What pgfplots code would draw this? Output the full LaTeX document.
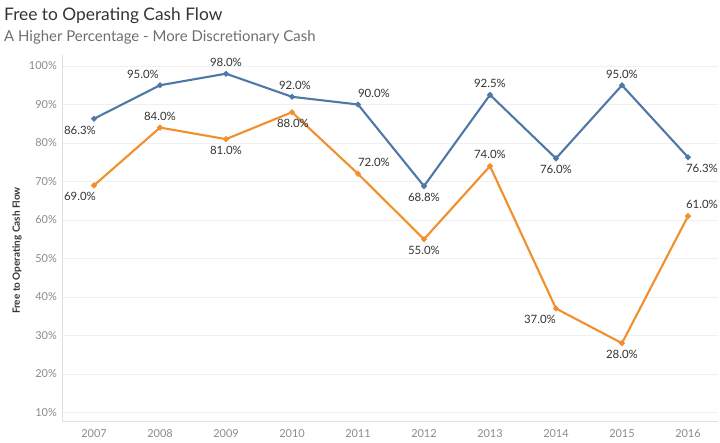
\documentclass[border=0pt]{standalone}
\usepackage{fontspec}
\setmainfont{Lato}
\usepackage{pgfplots}
\pgfplotsset{compat=1.18}
\definecolor{tblue}{HTML}{4E79A7}
\definecolor{torange}{HTML}{F28E2B}
\definecolor{txt}{HTML}{333333}
\definecolor{tick}{HTML}{8A8A8A}
\definecolor{sub}{HTML}{6E6E6E}

\pgfplotsset{lbl/.style={
  point meta=explicit symbolic,
  nodes near coords={\pgfplotspointmeta\%},
  visualization depends on={value \thisrow{anc}\as\anc},
  visualization depends on={\thisrow{dx}\as\dx},
  every node near coord/.append style={anchor=\anc, xshift=\dx bp, inner xsep=0, inner ysep=6bp,
     text=txt, font=\fontsize{11.5}{13}\selectfont}}}

\begin{document}
\begin{tikzpicture}[x=1bp,y=1bp]
\path[use as bounding box] (0,0) rectangle (720,443);
\node[anchor=base west, inner sep=0, text=txt, font=\fontsize{17.4}{20}\selectfont] at (4,422) {Free to Operating Cash Flow};
\node[anchor=base west, inner sep=0, text=sub, font=\fontsize{15}{17}\selectfont] at (4,401) {A Higher Percentage - More Discretionary Cash};
\node[rotate=90, inner sep=0, text=txt, font=\fontsize{10}{12}\selectfont\bfseries] at (17,192.5) {Free to Operating Cash Flow};
\begin{axis}[
  at={(62bp,22bp)}, anchor=south west,
  scale only axis, width=656bp, height=366bp,
  xmin=2006.515, xmax=2016.455,
  ymin=7.79, ymax=102.86,
  clip=false,
  axis lines*=left,
  axis line style={-, draw=black!12, line width=0.8bp},
  ytick={10,20,30,40,50,60,70,80,90,100},
  yticklabels={10\%,20\%,30\%,40\%,50\%,60\%,70\%,80\%,90\%,100\%},
  xtick={2007,2008,2009,2010,2011,2012,2013,2014,2015,2016},
  xticklabels={2007,2008,2009,2010,2011,2012,2013,2014,2015,2016},
  major tick length=0,
  ymajorgrids, grid style={draw=black!6, line width=0.8bp},
  tick label style={text=tick, font=\fontsize{11}{12}\selectfont},
  yticklabel style={anchor=east, inner xsep=0, xshift=-5bp},
  xticklabel style={anchor=north, inner ysep=0, yshift=-8bp},
]
\addplot[color=tblue, line width=2.1bp, mark=*, mark size=1.7bp, mark options={solid}, lbl]
  table[x=year, y=val, meta=lab] {
year val lab anc dx
2007 86.3 86.3 north -14
2008 95.0 95.0 south -17
2009 98.0 98.0 south 0
2010 92.0 92.0 south 3
2011 90.0 90.0 south 16
2012 68.8 68.8 north 0
2013 92.5 92.5 south 0
2014 76.0 76.0 north 0
2015 95.0 95.0 south 0
2016 76.3 76.3 north 14
};
\addplot[color=torange, line width=2.1bp, mark=*, mark size=1.7bp, mark options={solid}, lbl]
  table[x=year, y=val, meta=lab] {
year val lab anc dx
2007 69.0 69.0 north -14
2008 84.0 84.0 south 0
2009 81.0 81.0 north 0
2010 88.0 88.0 north 1
2011 72.0 72.0 south 16
2012 55.0 55.0 north 0
2013 74.0 74.0 south 0
2014 37.0 37.0 north -16
2015 28.0 28.0 north 0
2016 61.0 61.0 south 14
};
\end{axis}
\end{tikzpicture}
\end{document}
